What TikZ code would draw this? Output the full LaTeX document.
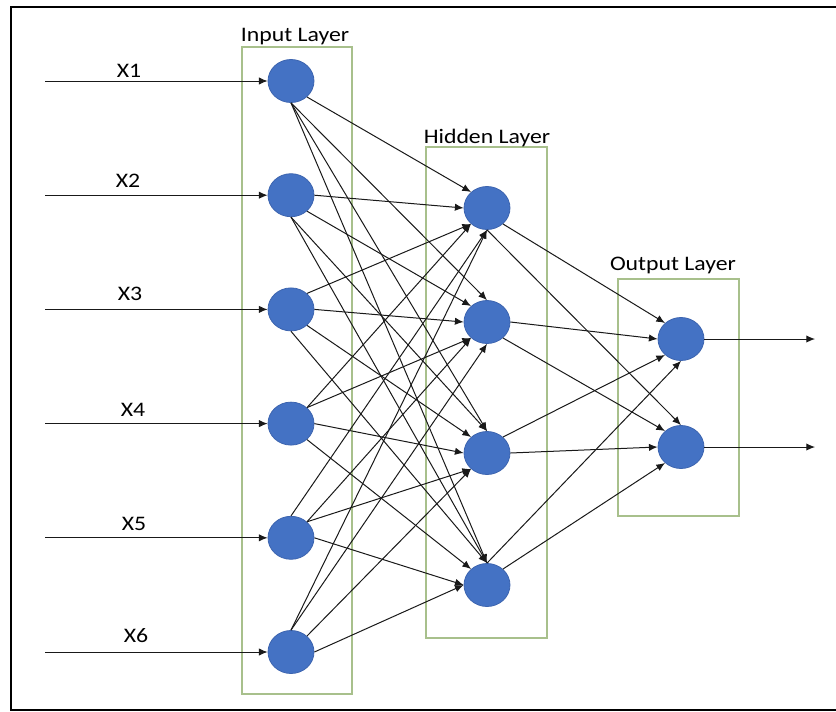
\documentclass[tikz,border=0pt]{standalone}
\usepackage{fontspec}
\setmainfont[FakeStretch=1.15]{Carlito}
\usetikzlibrary{arrows.meta,shapes.geometric}
\definecolor{nodeblue}{RGB}{68,114,196}
\definecolor{nodeedge}{RGB}{60,100,175}
\definecolor{boxgreen}{RGB}{168,192,140}
\tikzset{
  neuron/.style={ellipse,fill=nodeblue,draw=nodeedge,line width=0.6pt,minimum width=34.5pt,minimum height=32.25pt,inner sep=0pt},
  layerbox/.style={draw=boxgreen,line width=0.8pt},
  conn/.style={draw=black!90,line width=0.75pt,-{Latex[length=6.5pt,width=5.5pt]}},
  lbl/.style={font=\fontsize{15.5pt}{18pt}\selectfont,anchor=base,inner sep=0pt},
}
\begin{document}
\begin{tikzpicture}[x=0.75pt,y=-0.75pt]
\useasboundingbox (0,0) rectangle (836,711);
% outer frame
\draw[line width=1.5pt,black] (836,7) -- (11,7) -- (11,709.5) -- (836,709.5);
% layer boxes
\draw[layerbox] (242,47) rectangle (352,694);
\draw[layerbox] (426,147) rectangle (547,638);
\draw[layerbox] (618,279) rectangle (739,516);
\node[lbl] (tin) at (295,41.7) {Input Layer};
\node[lbl] (thid) at (487,143.3) {Hidden Layer};
\node[lbl] (tout) at (673,270.7) {Output Layer};
% nodes
\foreach \i/\y in {1/81,2/195.2,3/309.4,4/423.6,5/537.8,6/652}
  \node[neuron] (I\i) at (291,\y) {};
\foreach \i/\y in {1/208,2/322,3/453,4/585}
  \node[neuron] (H\i) at (487,\y) {};
\foreach \i/\y in {1/339,2/447}
  \node[neuron] (O\i) at (681,\y) {};
% input labels and arrows
\foreach \i/\y/\lx/\by in {1/81/129/77,2/195.2/128/187,3/309.4/130/300,4/423.6/133/416,5/537.8/134/530,6/652/136/642}{
  \coordinate (s\i) at (45,\y);
  \node[lbl] (x\i) at (\lx,\by) {X\i};
  \draw[conn] (s\i) -- (I\i.west);
}
% output arrows
\foreach \i/\y in {1/339,2/447}{
  \coordinate (e\i) at (815,\y);
  \draw[conn] (O\i.east) -- (e\i);
}
% input -> hidden
\foreach \i/\yi in {1/81,2/195.2,3/309.4,4/423.6,5/537.8,6/652}{
  \foreach \j/\yj in {1/208,2/322,3/453,4/585}{
    \pgfmathsetmacro\dy{\yj-\yi}
    \pgfmathsetmacro\ang{atan(abs(\dy)/196)}
    \pgfmathtruncatemacro\k{\ang<22.5 ? 0 : (\ang<50 ? 1 : 2)}
    \pgfmathtruncatemacro\sa{\dy>0 ? -45*\k : 45*\k}
    \pgfmathtruncatemacro\ea{\dy>0 ? 180-45*\k : 180+45*\k}
    \draw[conn] (I\i.\sa) -- (H\j.\ea);
  }
}
% hidden -> output
\foreach \i/\yi in {1/208,2/322,3/453,4/585}{
  \foreach \j/\yj in {1/339,2/447}{
    \pgfmathsetmacro\dy{\yj-\yi}
    \pgfmathsetmacro\ang{atan(abs(\dy)/194)}
    \pgfmathtruncatemacro\k{\ang<22.5 ? 0 : (\ang<50 ? 1 : 2)}
    \pgfmathtruncatemacro\sa{\dy>0 ? -45*\k : 45*\k}
    \pgfmathtruncatemacro\ea{\dy>0 ? 180-45*\k : 180+45*\k}
    \draw[conn] (H\i.\sa) -- (O\j.\ea);
  }
}
\end{tikzpicture}
\end{document}
